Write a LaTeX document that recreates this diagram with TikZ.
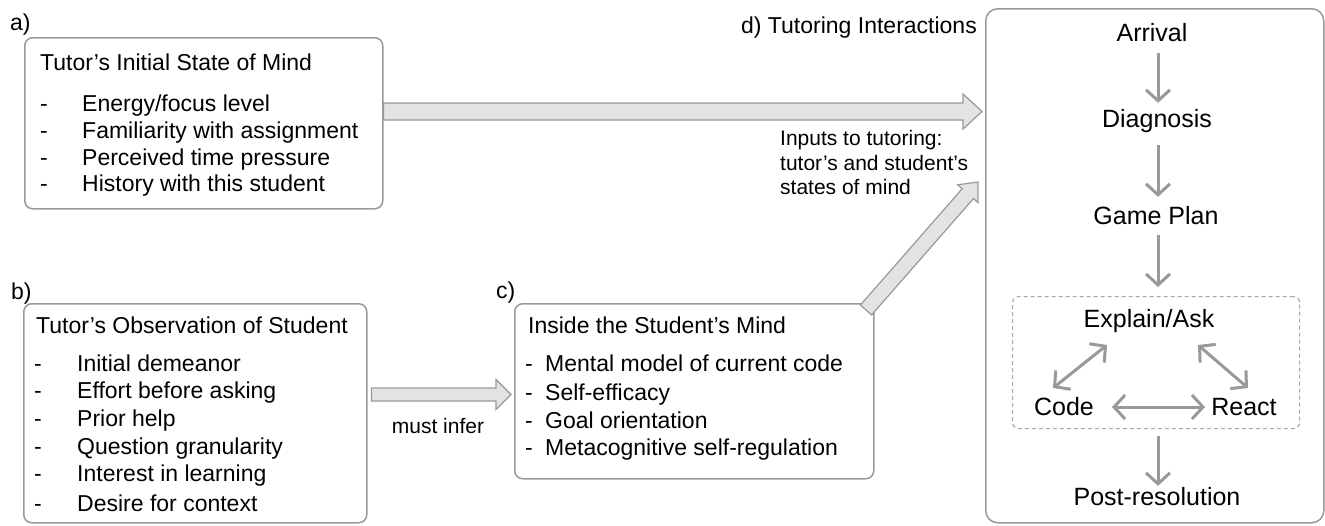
\documentclass[tikz,border=0pt]{standalone}
\usepackage{fontspec}
\setmainfont{Liberation Sans}
\usetikzlibrary{calc,arrows.meta}
\definecolor{boxgray}{HTML}{999999}
\definecolor{arrfill}{HTML}{E3E3E3}
\definecolor{flowgray}{HTML}{999999}
\definecolor{dashgray}{HTML}{A8A8A8}
\tikzset{
  panel/.style={draw=boxgray, line width=1.5pt, rounded corners=8pt, inner sep=0pt, anchor=north west},
  txt/.style={inner sep=0pt, text height=16.5pt, text depth=0pt, anchor=west, font=\fontsize{23}{27}\selectfont},
  smalltxt/.style={inner sep=0pt, text height=15pt, text depth=0pt, font=\fontsize{21}{25}\selectfont},
  flow/.style={inner sep=0pt, text height=17.9pt, text depth=0pt, font=\fontsize{25}{30}\selectfont},
  flowarrow/.style={draw=flowgray, line width=3pt, -{Straight Barb[length=11pt,width=24pt]}},
  flowarrows/.style={draw=flowgray, line width=3pt, {Straight Barb[length=11pt,width=24pt]}-{Straight Barb[length=11pt,width=24pt]}},
  blockarrow/.style={draw=boxgray, fill=arrfill, line width=1.2pt, line join=miter}
}
\newcommand\myblockarrow[5]{%
  \coordinate (tmpH) at ($(#2)!#5!(#1)$);
  \draw[blockarrow] ($(#1)!#3!90:(#2)$) -- ($(tmpH)!#3!90:(#2)$) -- ($(tmpH)!#4!90:(#2)$) -- (#2)
     -- ($(tmpH)!#4!-90:(#2)$) -- ($(tmpH)!#3!-90:(#2)$) -- ($(#1)!#3!-90:(#2)$) -- cycle;
}
\begin{document}
\begin{tikzpicture}[x=1pt,y=-1pt]
\useasboundingbox (0,0) rectangle (1325,525);

% ---------- panel a ----------
\node[txt] (la) at (10,22) {a)};
\node[panel, minimum width=358pt, minimum height=171pt] (a) at (24,37) {};
\node[txt] (at) at (40,62) {Tutor’s Initial State of Mind};
\node[txt] (ad1) at (40,103) {-}; \node[txt] (a1) at (82,103) {Energy/focus level};
\node[txt] (ad2) at (40,130) {-}; \node[txt] (a2) at (82,130) {Familiarity with assignment};
\node[txt] (ad3) at (40,157) {-}; \node[txt] (a3) at (82,157) {Perceived time pressure};
\node[txt] (ad4) at (40,183) {-}; \node[txt] (a4) at (82,183) {History with this student};

% ---------- panel b ----------
\node[txt] (lb) at (11,291) {b)};
\node[panel, minimum width=343pt, minimum height=219pt] (b) at (23,303) {};
\node[txt] (bt) at (36,325) {Tutor’s Observation of Student};
\node[txt] (bd1) at (34,363) {-}; \node[txt] (b1) at (77,363) {Initial demeanor};
\node[txt] (bd2) at (34,390) {-}; \node[txt] (b2) at (77,390) {Effort before asking};
\node[txt] (bd3) at (34,418) {-}; \node[txt] (b3) at (77,418) {Prior help};
\node[txt] (bd4) at (34,446) {-}; \node[txt] (b4) at (77,446) {Question granularity};
\node[txt] (bd5) at (34,473) {-}; \node[txt] (b5) at (77,473) {Interest in learning};
\node[txt] (bd6) at (34,503) {-}; \node[txt] (b6) at (77,503) {Desire for context};

% ---------- panel c ----------
\node[txt] (lc) at (496,290) {c)};
\node[panel, minimum width=359pt, minimum height=175pt] (c) at (514,303) {};
\node[txt] (ct) at (528,325) {Inside the Student’s Mind};
\node[txt] (cd1) at (525,363) {-}; \node[txt] (c1) at (545,363) {Mental model of current code};
\node[txt] (cd2) at (525,392) {-}; \node[txt] (c2) at (545,392) {Self-efficacy};
\node[txt] (cd3) at (525,420) {-}; \node[txt] (c3) at (545,420) {Goal orientation};
\node[txt] (cd4) at (525,447) {-}; \node[txt] (c4) at (545,447) {Metacognitive self-regulation};

% ---------- panel d ----------
\node[txt, anchor=east] (ld) at (977,25) {d) Tutoring Interactions};
\node[panel, rounded corners=12pt, minimum width=338pt, minimum height=514pt] (d) at (985,8) {};
\node[flow] (arr) at (1152,33) {Arrival};
\node[flow] (diag) at (1157,119) {Diagnosis};
\node[flow] (gp) at (1156,216) {Game Plan};
\node[draw=dashgray, line width=1.2pt, dash pattern=on 4pt off 3pt, rounded corners=6pt,
      inner sep=0pt, anchor=north west, minimum width=287pt, minimum height=132pt] (dbox) at (1012,296) {};
\node[flow] (expl) at (1149,319) {Explain/Ask};
\node[flow] (code) at (1064,407) {Code};
\node[flow] (react) at (1244,407) {React};
\node[flow] (post) at (1157,497) {Post-resolution};
\coordinate (dcol) at (1158,0);

\draw[flowarrow] ($(arr.south -| dcol)+(0,11)$) -- ($(diag.north -| dcol)+(0,-7)$);
\draw[flowarrow] ($(diag.south -| dcol)+(0,17)$) -- ($(gp.north -| dcol)+(0,-10)$);
\draw[flowarrow] ($(gp.south -| dcol)+(0,10)$) -- ($(dbox.north -| dcol)+(0,-9)$);
\draw[flowarrow] ($(dbox.south -| dcol)+(0,7)$) -- ($(post.north -| dcol)+(0,-2)$);
\draw[flowarrows] ($(code)+(-11,-19)$) -- ($(expl)+(-42,26)$);
\draw[flowarrows] ($(expl)+(49,26)$) -- ($(react)+(4,-19)$);
\draw[flowarrows] ($(code)+(48,0)$) -- ($(react)+(-39,0)$);

% ---------- block arrows ----------
\coordinate (a2ds) at (a.east |- 0,111.5);
\coordinate (a2de) at ([xshift=-3pt]d.west |- a2ds);
\myblockarrow{a2ds}{a2de}{8.5pt}{17.5pt}{19pt}
\coordinate (b2cs) at ([xshift=4pt]b.east |- 0,394.5);
\coordinate (b2ce) at ([xshift=-3pt]c.west |- b2cs);
\myblockarrow{b2cs}{b2ce}{6.5pt}{15pt}{15pt}
\coordinate (c2ds) at (866,310);
\coordinate (c2de) at (978,182);
\myblockarrow{c2ds}{c2de}{7.5pt}{13.5pt}{15.5pt}

\node[smalltxt, anchor=west] (in1) at (780,138) {Inputs to tutoring:};
\node[smalltxt, anchor=west] (in2) at (780,162.5) {tutor’s and student’s};
\node[smalltxt, anchor=west] (in3) at (780,187) {states of mind};
\node[smalltxt] (mi) at (438,426) {must infer};
\end{tikzpicture}
\end{document}
